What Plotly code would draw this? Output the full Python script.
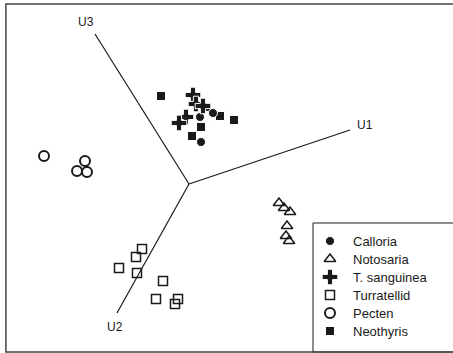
import plotly.graph_objects as go

# Scores on the first two ordination axes (centre of the axis star at 0,0)
calloria_x = [0.11, 0.12, 0.24]
calloria_y = [0.67, 0.42, 0.71]
notosaria_x = [0.90, 0.95, 1.01, 0.98, 0.97, 1.00]
notosaria_y = [-0.19, -0.24, -0.28, -0.42, -0.52, -0.57]
sanguinea_x = [0.04, 0.07, 0.14, -0.03, -0.10]
sanguinea_y = [0.89, 0.80, 0.78, 0.67, 0.61]
turratellid_x = [-0.47, -0.53, -0.70, -0.52, -0.26, -0.33, -0.11, -0.14]
turratellid_y = [-0.65, -0.73, -0.84, -0.89, -0.97, -1.15, -1.15, -1.20]
pecten_x = [-1.45, -1.04, -1.12, -1.02]
pecten_y = [0.28, 0.23, 0.13, 0.12]
neothyris_x = [-0.28, 0.31, 0.45, 0.12, 0.03, 0.17]
neothyris_y = [0.88, 0.68, 0.64, 0.57, 0.48, 0.77]

# Loading directions for U1, U2, U3
axis_names = ["U1", "U2", "U3"]
axis_x = [1.61, -0.72, -0.94]
axis_y = [0.54, -1.29, 1.50]

legend_names = ["Calloria", "Notosaria", "T. sanguinea", "Turratellid", "Pecten", "Neothyris"]

FONT = "Arial, Liberation Sans, Helvetica, sans-serif"
BLACK = "#1a1a1a"

styles = {
    "Calloria": dict(symbol="circle", size=9, color=BLACK, line=dict(color="white", width=1)),
    "Notosaria": dict(symbol="triangle-up-open", size=10, color=BLACK, line=dict(color=BLACK, width=1.5)),
    "T. sanguinea": dict(symbol="cross", size=13, color=BLACK, line=dict(color="white", width=1)),
    "Turratellid": dict(symbol="square-open", size=9, color=BLACK, line=dict(color=BLACK, width=1.5)),
    "Pecten": dict(symbol="circle-open", size=10, color=BLACK, line=dict(color=BLACK, width=2)),
    "Neothyris": dict(symbol="square", size=9, color=BLACK, line=dict(color="white", width=1)),
}

series = {
    "Turratellid": (turratellid_x, turratellid_y),
    "Pecten": (pecten_x, pecten_y),
    "Notosaria": (notosaria_x, notosaria_y),
    "Neothyris": (neothyris_x, neothyris_y),
    "Calloria": (calloria_x, calloria_y),
    "T. sanguinea": (sanguinea_x, sanguinea_y),
}

fig = go.Figure()

# Axis star
for name, ax, ay in zip(axis_names, axis_x, axis_y):
    fig.add_trace(go.Scatter(x=[0, ax], y=[0, ay], mode="lines",
                             line=dict(color=BLACK, width=1.2),
                             hoverinfo="skip", showlegend=False))

for name, (xs, ys) in series.items():
    fig.add_trace(go.Scatter(x=xs, y=ys, mode="markers", name=name,
                             marker=styles[name], showlegend=False))

# Axis labels
label_offsets = {"U1": (0.15, 0.05), "U2": (-0.02, -0.14), "U3": (-0.09, 0.12)}
for name, ax, ay in zip(axis_names, axis_x, axis_y):
    dx, dy = label_offsets[name]
    fig.add_annotation(x=ax + dx, y=ay + dy, text=name, showarrow=False,
                       font=dict(family=FONT, size=12, color=BLACK))

# Key box
fig.add_shape(type="rect", xref="x", yref="y", x0=1.24, y0=-1.68, x1=3.0, y1=-0.39,
              line=dict(color=BLACK, width=1), fillcolor="white", layer="below")
for i, name in enumerate(legend_names):
    yy = -0.57 - 0.18 * i
    fig.add_trace(go.Scatter(x=[1.41], y=[yy], mode="markers", marker=styles[name],
                             hoverinfo="skip", showlegend=False))
    fig.add_annotation(x=1.62, y=yy, text=name, showarrow=False, xanchor="left",
                       font=dict(family=FONT, size=13, color=BLACK))

# Outer frame (open on the right)
fig.add_shape(type="path", xref="paper", yref="paper",
              path="M 1.05 0.989 L 0.013 0.989 L 0.013 0.003 L 1.05 0.003",
              line=dict(color="#444444", width=1.5))

fig.update_xaxes(range=[-1.89, 2.64], visible=False)
fig.update_yaxes(range=[-1.69, 1.84], visible=False)
fig.update_layout(width=453, height=353, margin=dict(l=0, r=0, t=0, b=0),
                  paper_bgcolor="white", plot_bgcolor="white")

fig.write_html("out.html")
